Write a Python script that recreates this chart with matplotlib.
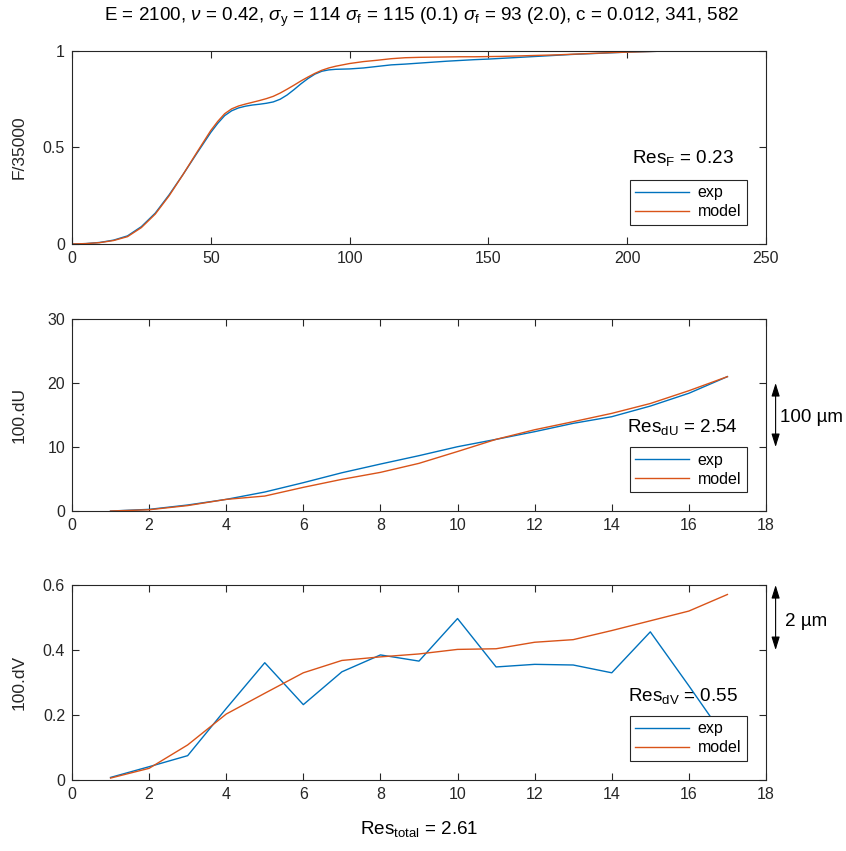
import matplotlib
matplotlib.use("Agg")
import matplotlib.pyplot as plt

# parameter setting
plt.rcParams['font.family'] = ['Liberation Sans', 'DejaVu Sans']
plt.rcParams['mathtext.fontset'] = 'custom'
plt.rcParams['mathtext.rm'] = 'Liberation Sans'
plt.rcParams['mathtext.it'] = 'Liberation Sans:italic'
plt.rcParams['mathtext.bf'] = 'Liberation Sans:bold'
fontsize = 11.5
textsize = 13.6
lw = 1.0
grey = '#262626'
c_exp = '#0072BD'
c_model = '#D95319'

# force curve
f_x = [0, 5, 10, 15, 20, 25, 30, 35, 40, 45, 50, 52.5, 55, 57.5, 60, 62.5,
       65, 67.5, 70, 72.5, 75, 77.5, 80, 82.5, 85, 87.5, 90, 92.5, 95, 100,
       105, 110, 115, 120, 125, 130, 135, 140, 145, 150, 155, 160, 165, 170,
       175, 180, 185, 190, 195, 200, 205, 210, 215]
f_exp = [0, 0.002, 0.008, 0.02, 0.042, 0.09, 0.16, 0.255, 0.36, 0.47, 0.578,
         0.625, 0.665, 0.69, 0.705, 0.714, 0.72, 0.724, 0.729, 0.736, 0.75,
         0.772, 0.80, 0.83, 0.857, 0.88, 0.895, 0.902, 0.905, 0.907, 0.912,
         0.92, 0.928, 0.932, 0.937, 0.942, 0.947, 0.951, 0.955, 0.958, 0.962,
         0.966, 0.97, 0.974, 0.978, 0.982, 0.985, 0.988, 0.991, 0.994, 0.996,
         0.998, 1.0]
f_model = [0, 0.002, 0.007, 0.018, 0.038, 0.085, 0.155, 0.25, 0.36, 0.475,
           0.588, 0.635, 0.675, 0.7, 0.715, 0.725, 0.734, 0.743, 0.753, 0.765,
           0.782, 0.802, 0.823, 0.845, 0.865, 0.884, 0.9, 0.912, 0.921, 0.935,
           0.945, 0.952, 0.96, 0.965, 0.967, 0.968, 0.969, 0.97, 0.97, 0.971,
           0.972, 0.974, 0.976, 0.978, 0.98, 0.983, 0.986, 0.989, 0.992,
           0.994, 0.996, 0.998, 1.0]

# displacements
pt = list(range(1, 18))
du_exp = [0.0, 0.26, 0.94, 1.82, 2.97, 4.43, 5.98, 7.34, 8.65, 10.05, 11.2,
          12.4, 13.7, 14.74, 16.4, 18.4, 21.0]
du_model = [0.0, 0.2, 0.85, 1.82, 2.34, 3.7, 4.95, 6.04, 7.45, 9.3, 11.2,
            12.7, 13.96, 15.26, 16.8, 18.8, 21.0]
dv_exp = [0.008, 0.041, 0.075, 0.22, 0.361, 0.232, 0.333, 0.385, 0.366,
          0.497, 0.348, 0.356, 0.354, 0.33, 0.456, 0.29, 0.12]
dv_model = [0.006, 0.036, 0.108, 0.203, 0.267, 0.33, 0.368, 0.379, 0.388,
            0.402, 0.404, 0.424, 0.432, 0.46, 0.49, 0.52, 0.571]

title = (r"E = 2100, $\nu$ = 0.42, $\sigma_\mathrm{y}$ = 114 $\sigma_\mathrm{f}$ = 115 (0.1) "
         r"$\sigma_\mathrm{f}$ = 93 (2.0), c = 0.012, 341, 582")


def style_axes(ax, ylabel):
    for s in ax.spines.values():
        s.set_color(grey)
        s.set_linewidth(0.8)
    ax.tick_params(axis='both', which='both', direction='in', length=5,
                   width=0.8, color=grey, labelcolor=grey, labelsize=fontsize,
                   top=True, right=True, pad=5)
    ax.set_ylabel(ylabel, fontsize=fontsize + 1, color=grey)
    ax.yaxis.set_label_coords(-0.066, 0.5)


def add_legend(ax, text, ty):
    ax.text(0.88, ty, text, transform=ax.transAxes, ha='center',
            va='baseline', fontsize=textsize, color='black', zorder=1)
    leg = ax.legend(loc='lower right', bbox_to_anchor=(0.972, 0.098),
                    borderaxespad=0, fontsize=fontsize, fancybox=False,
                    framealpha=1, edgecolor=grey, handlelength=3.4,
                    handletextpad=0.5, borderpad=0.35, labelspacing=0.25)
    leg.get_frame().set_linewidth(0.8)
    leg.set_zorder(5)


def add_arrow(ax, x, y0, y1, tx, ty, label):
    ax.annotate('', xy=(x, y1), xytext=(x, y0), xycoords='data',
                annotation_clip=False,
                arrowprops=dict(arrowstyle='<|-|>,head_length=0.8,head_width=0.25',
                                color='black', lw=0.8, shrinkA=0, shrinkB=0))
    ax.text(tx, ty, label, ha='left', va='center', fontsize=textsize,
            clip_on=False)


fig = plt.figure(figsize=(8.46, 8.51), dpi=100)
ax1 = fig.add_axes([0.0851, 0.7133, 0.8203, 0.2268])
ax2 = fig.add_axes([0.0851, 0.3995, 0.8203, 0.2256])
ax3 = fig.add_axes([0.0851, 0.0834, 0.8203, 0.2291])

# force
ax1.plot(f_x, f_exp, color=c_exp, lw=lw, label='exp', zorder=2)
ax1.plot(f_x, f_model, color=c_model, lw=lw, label='model', zorder=2)
ax1.set_xlim(0, 250)
ax1.set_ylim(0, 1)
ax1.set_xticks([0, 50, 100, 150, 200, 250])
ax1.set_yticks([0, 0.5, 1])
ax1.set_yticklabels(['0', '0.5', '1'])
style_axes(ax1, 'F/35000')
add_legend(ax1, r'Res$_\mathrm{F}$ = 0.23', 0.418)

# dU
ax2.plot(pt, du_exp, color=c_exp, lw=lw, label='exp', zorder=2)
ax2.plot(pt, du_model, color=c_model, lw=lw, label='model', zorder=2)
ax2.set_xlim(0, 18)
ax2.set_ylim(0, 30)
ax2.set_xticks(range(0, 19, 2))
ax2.set_yticks([0, 10, 20, 30])
style_axes(ax2, '100.dU')
add_legend(ax2, r'Res$_\mathrm{dU}$ = 2.54', 0.413)
add_arrow(ax2, 18.25, 10, 20, 18.36, 14.6, '100 µm')

# dV
ax3.plot(pt, dv_exp, color=c_exp, lw=lw, label='exp', zorder=2)
ax3.plot(pt, dv_model, color=c_model, lw=lw, label='model', zorder=2)
ax3.set_xlim(0, 18)
ax3.set_ylim(0, 0.6)
ax3.set_xticks(range(0, 19, 2))
ax3.set_yticks([0, 0.2, 0.4, 0.6])
ax3.set_yticklabels(['0', '0.2', '0.4', '0.6'])
style_axes(ax3, '100.dV')
add_legend(ax3, r'Res$_\mathrm{dV}$ = 0.55', 0.405)
add_arrow(ax3, 18.25, 0.4, 0.6, 18.49, 0.487, '2 µm')
ax3.set_xlabel(r'Res$_\mathrm{total}$ = 2.61', fontsize=textsize,
               color='black', labelpad=12)

# global figure setting
fig.text(0.498, 0.979, title, ha='center', va='center', fontsize=textsize,
         color='black')

fig.savefig('out.png', dpi=100)
